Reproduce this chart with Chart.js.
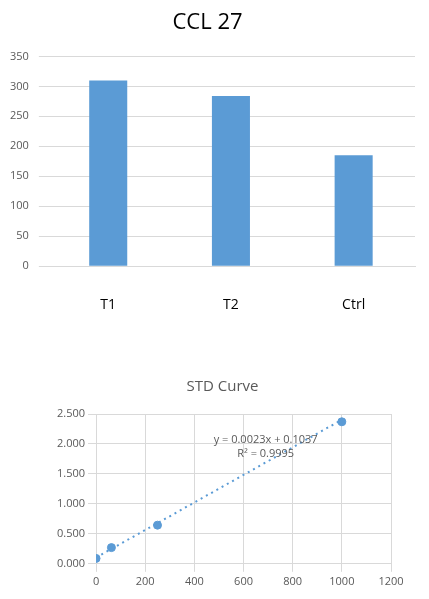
<!DOCTYPE html>
<html>
<head>
<meta charset="utf-8">
<script src="https://cdn.jsdelivr.net/npm/chart.js@4"></script>
<style>
  body { margin: 0; background: #fff; width: 429px; height: 599px; position: relative; overflow: hidden; }
  #barChart { position: absolute; left: 0; top: 0; }
  #stdChart { position: absolute; left: 40px; top: 368px; }
</style>
</head>
<body>
<canvas id="barChart" width="429" height="345"></canvas>
<canvas id="stdChart" width="389" height="231"></canvas>
<script>
// CCL 27 bars
const categories = ["T1", "T2", "Ctrl"];
const cclValues = [310, 284, 185];

// standard curve points
const stdX = [0, 62.5, 250, 1000];
const stdY = [0.09, 0.27, 0.645, 2.37];
// trendline
const trendX = [0, 1000];
const trendY = [0.1037, 2.4037];
const trendLabel = ["y = 0.0023x + 0.1037", "R² = 0.9995"];

const blue = "#5b9bd5";
const tickGray = "#595959";
const gridGray = "#d9d9d9";
const font = "'Open Sans', 'Liberation Sans', sans-serif";

new Chart(document.getElementById("barChart"), {
  type: "bar",
  data: {
    labels: categories,
    datasets: [{ data: cclValues, backgroundColor: blue, barPercentage: 0.62, categoryPercentage: 0.5 }],
  },
  options: {
    responsive: false,
    animation: false,
    layout: { padding: { left: 0, right: 14, top: 6, bottom: 10 } },
    plugins: {
      legend: { display: false },
      tooltip: { enabled: false },
      title: { display: true, text: "CCL 27", color: "#000", font: { family: font, size: 22, weight: "normal" }, padding: { top: 4, bottom: 20 } },
    },
    scales: {
      y: {
        min: 0, max: 350,
        ticks: { stepSize: 50, color: tickGray, font: { family: font, size: 11 }, padding: 10 },
        grid: { color: gridGray },
        border: { display: false },
      },
      x: {
        ticks: { color: "#000", font: { family: font, size: 14 }, padding: 22 },
        grid: { display: false },
        border: { color: gridGray },
      },
    },
  },
});

const trendText = {
  id: "trendText",
  afterDatasetsDraw(chart) {
    const ctx = chart.ctx;
    const x = chart.scales.x.getPixelForValue(690);
    const y = chart.scales.y.getPixelForValue(2.02);
    ctx.save();
    ctx.fillStyle = tickGray;
    ctx.font = "11px " + font;
    ctx.textAlign = "center";
    ctx.fillText(trendLabel[0], x, y);
    ctx.fillText(trendLabel[1], x, y + 14);
    ctx.restore();
  },
};

new Chart(document.getElementById("stdChart"), {
  type: "scatter",
  data: {
    datasets: [
      {
        data: stdX.map((x, i) => ({ x: x, y: stdY[i] })),
        backgroundColor: blue, borderColor: blue, pointRadius: 4,
      },
      {
        type: "line",
        data: trendX.map((x, i) => ({ x: x, y: trendY[i] })),
        borderColor: blue, borderWidth: 2, borderDash: [2, 4], pointRadius: 0, fill: false,
      },
    ],
  },
  options: {
    responsive: false,
    animation: false,
    layout: { padding: { left: 14, right: 38, top: 6, bottom: 8 } },
    plugins: {
      legend: { display: false },
      tooltip: { enabled: false },
      title: { display: true, text: "STD Curve", color: tickGray, font: { family: font, size: 15, weight: "normal" }, padding: { top: 4, bottom: 18 } },
    },
    scales: {
      x: {
        min: 0, max: 1200,
        ticks: { stepSize: 200, color: tickGray, font: { family: font, size: 11 }, callback: (v) => String(v) },
        grid: { color: gridGray },
        border: { color: gridGray },
      },
      y: {
        min: 0, max: 2.5,
        ticks: { stepSize: 0.5, color: tickGray, font: { family: font, size: 11 }, callback: (v) => v.toFixed(3) },
        grid: { color: gridGray },
        border: { color: gridGray },
      },
    },
  },
  plugins: [trendText],
});
</script>
</body>
</html>
